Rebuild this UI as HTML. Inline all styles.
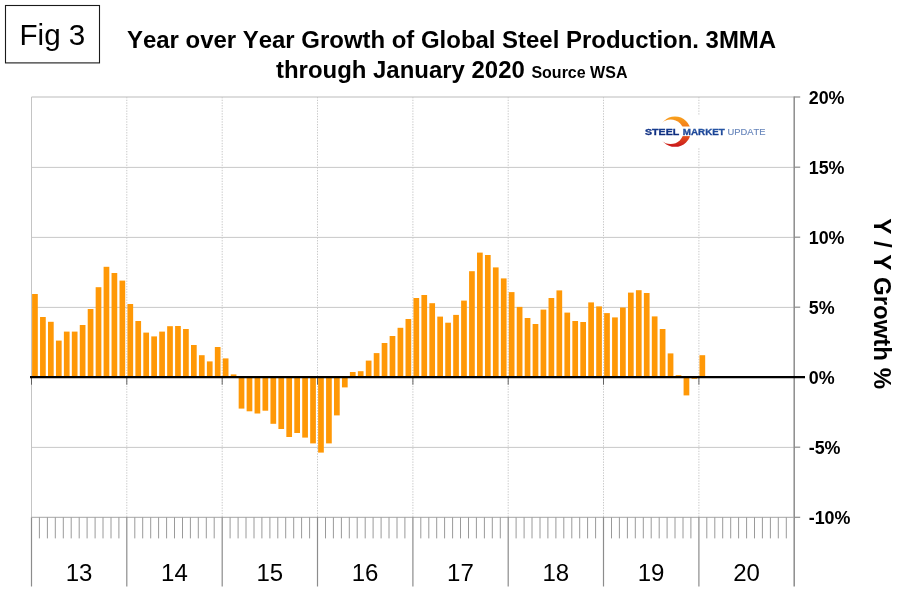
<!DOCTYPE html>
<html lang="en">
<head>
<meta charset="utf-8">
<title>Fig 3 - Year over Year Growth of Global Steel Production</title>
<style>
html,body{margin:0;padding:0;background:#fff;}
body{width:910px;height:603px;overflow:hidden;position:relative;font-family:"Liberation Sans",Arial,sans-serif;}
svg{position:absolute;left:0;top:0;display:block;}
svg text{font-family:"Liberation Sans",Arial,sans-serif;font-kerning:none;}
.b{font-weight:bold;}
</style>
</head>
<body>
<svg width="910" height="603" viewBox="0 0 910 603">
<defs>
<linearGradient id="cres" x1="0" y1="0" x2="0" y2="1">
<stop offset="0" stop-color="#f9a21b"/><stop offset="0.5" stop-color="#ef6a1f"/><stop offset="1" stop-color="#c8151b"/>
</linearGradient>
<linearGradient id="tx1" x1="0" y1="0" x2="0" y2="1">
<stop offset="0" stop-color="#1c4aa0"/><stop offset="1" stop-color="#071f6b"/>
</linearGradient>
<linearGradient id="tx2" x1="0" y1="0" x2="0" y2="1">
<stop offset="0" stop-color="#2f67b5"/><stop offset="1" stop-color="#0d2c80"/>
</linearGradient>
</defs>
<rect x="0" y="0" width="910" height="603" fill="#ffffff"/>

<g stroke="#c9c9c9" stroke-width="1" fill="none">
<line x1="31.5" y1="167.4" x2="794.2" y2="167.4"/>
<line x1="31.5" y1="237.4" x2="794.2" y2="237.4"/>
<line x1="31.5" y1="307.4" x2="794.2" y2="307.4"/>
<line x1="31.5" y1="447.4" x2="794.2" y2="447.4"/>
</g>
<line x1="31.5" y1="97.0" x2="794.2" y2="97.0" stroke="#d2d2d2" stroke-width="1.6"/>
<g stroke="#c8c8c8" stroke-width="1" stroke-dasharray="1.35 1.35" fill="none">
<line x1="126.8" y1="97.0" x2="126.8" y2="517.3"/>
<line x1="222.2" y1="97.0" x2="222.2" y2="517.3"/>
<line x1="317.5" y1="97.0" x2="317.5" y2="517.3"/>
<line x1="412.9" y1="97.0" x2="412.9" y2="517.3"/>
<line x1="508.2" y1="97.0" x2="508.2" y2="517.3"/>
<line x1="603.5" y1="97.0" x2="603.5" y2="517.3"/>
<line x1="698.9" y1="97.0" x2="698.9" y2="517.3"/>
</g>
<g id="logo">
<rect x="640" y="115" width="130" height="32" fill="#ffffff"/>
<ellipse cx="675" cy="131.65" rx="15.6" ry="15.2" fill="url(#cres)"/>
<ellipse cx="670.6" cy="131.75" rx="12.9" ry="12.2" fill="#ffffff"/>
<rect x="642" y="126.5" width="126" height="9.6" fill="#ffffff"/>
<text x="645" y="134.8" font-size="8.7" class="b" fill="url(#tx1)" stroke="#0f2f86" stroke-width="0.3" textLength="34.2" lengthAdjust="spacingAndGlyphs">STEEL</text>
<text x="682.8" y="134.8" font-size="8.7" class="b" fill="url(#tx2)" stroke="#1f4a9c" stroke-width="0.3" textLength="42" lengthAdjust="spacingAndGlyphs">MARKET</text>
<text x="727.4" y="134.8" font-size="8.7" fill="#6483ba" stroke="#6483ba" stroke-width="0.12" textLength="38" lengthAdjust="spacingAndGlyphs">UPDATE</text>
</g>

<g fill="#ff9806">
<rect x="32.10" y="294.0" width="5.7" height="83.2"/>
<rect x="40.05" y="317.0" width="5.7" height="60.2"/>
<rect x="47.99" y="321.8" width="5.7" height="55.4"/>
<rect x="55.94" y="340.6" width="5.7" height="36.6"/>
<rect x="63.88" y="331.6" width="5.7" height="45.6"/>
<rect x="71.82" y="331.6" width="5.7" height="45.6"/>
<rect x="79.77" y="325.0" width="5.7" height="52.2"/>
<rect x="87.72" y="309.0" width="5.7" height="68.2"/>
<rect x="95.66" y="287.2" width="5.7" height="90.0"/>
<rect x="103.60" y="266.8" width="5.7" height="110.4"/>
<rect x="111.55" y="273.0" width="5.7" height="104.2"/>
<rect x="119.50" y="280.6" width="5.7" height="96.6"/>
<rect x="127.44" y="304.0" width="5.7" height="73.2"/>
<rect x="135.38" y="321.0" width="5.7" height="56.2"/>
<rect x="143.33" y="332.6" width="5.7" height="44.6"/>
<rect x="151.28" y="336.4" width="5.7" height="40.8"/>
<rect x="159.22" y="331.6" width="5.7" height="45.6"/>
<rect x="167.16" y="326.2" width="5.7" height="51.0"/>
<rect x="175.11" y="326.0" width="5.7" height="51.2"/>
<rect x="183.06" y="329.0" width="5.7" height="48.2"/>
<rect x="191.00" y="345.0" width="5.7" height="32.2"/>
<rect x="198.94" y="355.2" width="5.7" height="22.0"/>
<rect x="206.89" y="361.4" width="5.7" height="15.8"/>
<rect x="214.84" y="347.0" width="5.7" height="30.2"/>
<rect x="222.78" y="358.4" width="5.7" height="18.8"/>
<rect x="230.72" y="374.4" width="5.7" height="2.8"/>
<rect x="238.67" y="377.2" width="5.7" height="31.4"/>
<rect x="246.62" y="377.2" width="5.7" height="34.1"/>
<rect x="254.56" y="377.2" width="5.7" height="36.3"/>
<rect x="262.50" y="377.2" width="5.7" height="33.5"/>
<rect x="270.45" y="377.2" width="5.7" height="46.6"/>
<rect x="278.40" y="377.2" width="5.7" height="51.8"/>
<rect x="286.34" y="377.2" width="5.7" height="59.8"/>
<rect x="294.29" y="377.2" width="5.7" height="55.8"/>
<rect x="302.23" y="377.2" width="5.7" height="60.4"/>
<rect x="310.18" y="377.2" width="5.7" height="66.2"/>
<rect x="318.12" y="377.2" width="5.7" height="75.4"/>
<rect x="326.07" y="377.2" width="5.7" height="66.2"/>
<rect x="334.01" y="377.2" width="5.7" height="38.2"/>
<rect x="341.96" y="377.2" width="5.7" height="10.2"/>
<rect x="349.90" y="372.0" width="5.7" height="5.2"/>
<rect x="357.85" y="371.2" width="5.7" height="6.0"/>
<rect x="365.79" y="360.6" width="5.7" height="16.6"/>
<rect x="373.74" y="353.1" width="5.7" height="24.1"/>
<rect x="381.68" y="343.0" width="5.7" height="34.2"/>
<rect x="389.63" y="336.0" width="5.7" height="41.2"/>
<rect x="397.57" y="327.8" width="5.7" height="49.4"/>
<rect x="405.52" y="319.0" width="5.7" height="58.2"/>
<rect x="413.46" y="298.0" width="5.7" height="79.2"/>
<rect x="421.41" y="295.0" width="5.7" height="82.2"/>
<rect x="429.35" y="303.2" width="5.7" height="74.0"/>
<rect x="437.30" y="316.6" width="5.7" height="60.6"/>
<rect x="445.24" y="322.7" width="5.7" height="54.5"/>
<rect x="453.19" y="314.9" width="5.7" height="62.3"/>
<rect x="461.13" y="300.6" width="5.7" height="76.6"/>
<rect x="469.08" y="271.2" width="5.7" height="106.0"/>
<rect x="477.02" y="252.6" width="5.7" height="124.6"/>
<rect x="484.97" y="255.0" width="5.7" height="122.2"/>
<rect x="492.91" y="267.4" width="5.7" height="109.8"/>
<rect x="500.86" y="278.4" width="5.7" height="98.8"/>
<rect x="508.80" y="292.1" width="5.7" height="85.1"/>
<rect x="516.75" y="306.9" width="5.7" height="70.3"/>
<rect x="524.69" y="318.0" width="5.7" height="59.2"/>
<rect x="532.64" y="324.0" width="5.7" height="53.2"/>
<rect x="540.58" y="309.6" width="5.7" height="67.6"/>
<rect x="548.53" y="298.0" width="5.7" height="79.2"/>
<rect x="556.47" y="290.4" width="5.7" height="86.8"/>
<rect x="564.42" y="312.6" width="5.7" height="64.6"/>
<rect x="572.36" y="321.0" width="5.7" height="56.2"/>
<rect x="580.31" y="322.0" width="5.7" height="55.2"/>
<rect x="588.25" y="302.4" width="5.7" height="74.8"/>
<rect x="596.20" y="306.4" width="5.7" height="70.8"/>
<rect x="604.14" y="313.1" width="5.7" height="64.1"/>
<rect x="612.09" y="317.4" width="5.7" height="59.8"/>
<rect x="620.03" y="307.5" width="5.7" height="69.7"/>
<rect x="627.98" y="292.6" width="5.7" height="84.6"/>
<rect x="635.92" y="290.2" width="5.7" height="87.0"/>
<rect x="643.87" y="293.0" width="5.7" height="84.2"/>
<rect x="651.81" y="316.4" width="5.7" height="60.8"/>
<rect x="659.75" y="329.0" width="5.7" height="48.2"/>
<rect x="667.70" y="353.4" width="5.7" height="23.8"/>
<rect x="675.65" y="375.2" width="5.7" height="2.0"/>
<rect x="683.59" y="377.2" width="5.7" height="18.2"/>
<rect x="691.54" y="377.2" width="5.7" height="1.6"/>
<rect x="699.48" y="355.2" width="5.7" height="22.0"/>
</g>
<g stroke="#8c8c8c" stroke-width="1.2" fill="none">
<line x1="31.5" y1="97.0" x2="31.5" y2="517.3" stroke="#c4c4c4" stroke-width="1"/>
<line x1="31.5" y1="517.3" x2="31.5" y2="586.5"/>
<line x1="794.2" y1="96.5" x2="794.2" y2="586.5" stroke-width="1.5"/>
<line x1="31.5" y1="517.3" x2="794.2" y2="517.3" stroke="#a6a6a6" stroke-width="1"/>
<line x1="126.8" y1="517.3" x2="126.8" y2="586.5"/>
<line x1="222.2" y1="517.3" x2="222.2" y2="586.5"/>
<line x1="317.5" y1="517.3" x2="317.5" y2="586.5"/>
<line x1="412.9" y1="517.3" x2="412.9" y2="586.5"/>
<line x1="508.2" y1="517.3" x2="508.2" y2="586.5"/>
<line x1="603.5" y1="517.3" x2="603.5" y2="586.5"/>
<line x1="698.9" y1="517.3" x2="698.9" y2="586.5"/>
<line x1="794.2" y1="97.0" x2="800.2" y2="97.0"/>
<line x1="794.2" y1="167.2" x2="800.2" y2="167.2"/>
<line x1="794.2" y1="237.2" x2="800.2" y2="237.2"/>
<line x1="794.2" y1="307.2" x2="800.2" y2="307.2"/>
<line x1="794.2" y1="447.2" x2="800.2" y2="447.2"/>
<line x1="794.2" y1="517.3" x2="800.2" y2="517.3"/>
</g>
<g stroke="#9a9a9a" stroke-width="1" fill="none">
<line x1="39.4" y1="517.3" x2="39.4" y2="538.4"/>
<line x1="47.4" y1="517.3" x2="47.4" y2="538.4"/>
<line x1="55.3" y1="517.3" x2="55.3" y2="538.4"/>
<line x1="63.3" y1="517.3" x2="63.3" y2="538.4"/>
<line x1="71.2" y1="517.3" x2="71.2" y2="538.4"/>
<line x1="79.2" y1="517.3" x2="79.2" y2="538.4"/>
<line x1="87.1" y1="517.3" x2="87.1" y2="538.4"/>
<line x1="95.1" y1="517.3" x2="95.1" y2="538.4"/>
<line x1="103.0" y1="517.3" x2="103.0" y2="538.4"/>
<line x1="111.0" y1="517.3" x2="111.0" y2="538.4"/>
<line x1="118.9" y1="517.3" x2="118.9" y2="538.4"/>
<line x1="134.8" y1="517.3" x2="134.8" y2="538.4"/>
<line x1="142.7" y1="517.3" x2="142.7" y2="538.4"/>
<line x1="150.7" y1="517.3" x2="150.7" y2="538.4"/>
<line x1="158.6" y1="517.3" x2="158.6" y2="538.4"/>
<line x1="166.6" y1="517.3" x2="166.6" y2="538.4"/>
<line x1="174.5" y1="517.3" x2="174.5" y2="538.4"/>
<line x1="182.5" y1="517.3" x2="182.5" y2="538.4"/>
<line x1="190.4" y1="517.3" x2="190.4" y2="538.4"/>
<line x1="198.3" y1="517.3" x2="198.3" y2="538.4"/>
<line x1="206.3" y1="517.3" x2="206.3" y2="538.4"/>
<line x1="214.2" y1="517.3" x2="214.2" y2="538.4"/>
<line x1="230.1" y1="517.3" x2="230.1" y2="538.4"/>
<line x1="238.1" y1="517.3" x2="238.1" y2="538.4"/>
<line x1="246.0" y1="517.3" x2="246.0" y2="538.4"/>
<line x1="254.0" y1="517.3" x2="254.0" y2="538.4"/>
<line x1="261.9" y1="517.3" x2="261.9" y2="538.4"/>
<line x1="269.9" y1="517.3" x2="269.9" y2="538.4"/>
<line x1="277.8" y1="517.3" x2="277.8" y2="538.4"/>
<line x1="285.7" y1="517.3" x2="285.7" y2="538.4"/>
<line x1="293.7" y1="517.3" x2="293.7" y2="538.4"/>
<line x1="301.6" y1="517.3" x2="301.6" y2="538.4"/>
<line x1="309.6" y1="517.3" x2="309.6" y2="538.4"/>
<line x1="325.5" y1="517.3" x2="325.5" y2="538.4"/>
<line x1="333.4" y1="517.3" x2="333.4" y2="538.4"/>
<line x1="341.4" y1="517.3" x2="341.4" y2="538.4"/>
<line x1="349.3" y1="517.3" x2="349.3" y2="538.4"/>
<line x1="357.2" y1="517.3" x2="357.2" y2="538.4"/>
<line x1="365.2" y1="517.3" x2="365.2" y2="538.4"/>
<line x1="373.1" y1="517.3" x2="373.1" y2="538.4"/>
<line x1="381.1" y1="517.3" x2="381.1" y2="538.4"/>
<line x1="389.0" y1="517.3" x2="389.0" y2="538.4"/>
<line x1="397.0" y1="517.3" x2="397.0" y2="538.4"/>
<line x1="404.9" y1="517.3" x2="404.9" y2="538.4"/>
<line x1="420.8" y1="517.3" x2="420.8" y2="538.4"/>
<line x1="428.8" y1="517.3" x2="428.8" y2="538.4"/>
<line x1="436.7" y1="517.3" x2="436.7" y2="538.4"/>
<line x1="444.6" y1="517.3" x2="444.6" y2="538.4"/>
<line x1="452.6" y1="517.3" x2="452.6" y2="538.4"/>
<line x1="460.5" y1="517.3" x2="460.5" y2="538.4"/>
<line x1="468.5" y1="517.3" x2="468.5" y2="538.4"/>
<line x1="476.4" y1="517.3" x2="476.4" y2="538.4"/>
<line x1="484.4" y1="517.3" x2="484.4" y2="538.4"/>
<line x1="492.3" y1="517.3" x2="492.3" y2="538.4"/>
<line x1="500.3" y1="517.3" x2="500.3" y2="538.4"/>
<line x1="516.1" y1="517.3" x2="516.1" y2="538.4"/>
<line x1="524.1" y1="517.3" x2="524.1" y2="538.4"/>
<line x1="532.0" y1="517.3" x2="532.0" y2="538.4"/>
<line x1="540.0" y1="517.3" x2="540.0" y2="538.4"/>
<line x1="547.9" y1="517.3" x2="547.9" y2="538.4"/>
<line x1="555.9" y1="517.3" x2="555.9" y2="538.4"/>
<line x1="563.8" y1="517.3" x2="563.8" y2="538.4"/>
<line x1="571.8" y1="517.3" x2="571.8" y2="538.4"/>
<line x1="579.7" y1="517.3" x2="579.7" y2="538.4"/>
<line x1="587.6" y1="517.3" x2="587.6" y2="538.4"/>
<line x1="595.6" y1="517.3" x2="595.6" y2="538.4"/>
<line x1="611.5" y1="517.3" x2="611.5" y2="538.4"/>
<line x1="619.4" y1="517.3" x2="619.4" y2="538.4"/>
<line x1="627.4" y1="517.3" x2="627.4" y2="538.4"/>
<line x1="635.3" y1="517.3" x2="635.3" y2="538.4"/>
<line x1="643.3" y1="517.3" x2="643.3" y2="538.4"/>
<line x1="651.2" y1="517.3" x2="651.2" y2="538.4"/>
<line x1="659.2" y1="517.3" x2="659.2" y2="538.4"/>
<line x1="667.1" y1="517.3" x2="667.1" y2="538.4"/>
<line x1="675.0" y1="517.3" x2="675.0" y2="538.4"/>
<line x1="683.0" y1="517.3" x2="683.0" y2="538.4"/>
<line x1="690.9" y1="517.3" x2="690.9" y2="538.4"/>
<line x1="706.8" y1="517.3" x2="706.8" y2="538.4"/>
<line x1="714.8" y1="517.3" x2="714.8" y2="538.4"/>
<line x1="722.7" y1="517.3" x2="722.7" y2="538.4"/>
<line x1="730.7" y1="517.3" x2="730.7" y2="538.4"/>
<line x1="738.6" y1="517.3" x2="738.6" y2="538.4"/>
<line x1="746.6" y1="517.3" x2="746.6" y2="538.4"/>
<line x1="754.5" y1="517.3" x2="754.5" y2="538.4"/>
<line x1="762.4" y1="517.3" x2="762.4" y2="538.4"/>
<line x1="770.4" y1="517.3" x2="770.4" y2="538.4"/>
<line x1="778.3" y1="517.3" x2="778.3" y2="538.4"/>
<line x1="786.3" y1="517.3" x2="786.3" y2="538.4"/>
</g>
<g stroke="#555" stroke-width="0.9" fill="none">
<line x1="31.5" y1="377.2" x2="31.5" y2="384.7"/>
<line x1="126.8" y1="377.2" x2="126.8" y2="384.7"/>
<line x1="222.2" y1="377.2" x2="222.2" y2="384.7"/>
<line x1="317.5" y1="377.2" x2="317.5" y2="384.7"/>
<line x1="412.9" y1="377.2" x2="412.9" y2="384.7"/>
<line x1="508.2" y1="377.2" x2="508.2" y2="384.7"/>
<line x1="603.5" y1="377.2" x2="603.5" y2="384.7"/>
<line x1="698.9" y1="377.2" x2="698.9" y2="384.7"/>
</g>
<line x1="30.0" y1="377.2" x2="805" y2="377.2" stroke="#000" stroke-width="2.2"/>
<g font-size="17.9" class="b" fill="#000">
<text x="808.7" y="103.7">20%</text>
<text x="808.7" y="173.7">15%</text>
<text x="808.7" y="243.7">10%</text>
<text x="808.7" y="313.7">5%</text>
<text x="808.7" y="383.7">0%</text>
<text x="808.7" y="453.7">-5%</text>
<text x="808.7" y="523.7">-10%</text>
</g>
<g font-size="24" fill="#000" text-anchor="middle">
<text x="79.1" y="581">13</text>
<text x="174.4" y="581">14</text>
<text x="269.8" y="581">15</text>
<text x="365.1" y="581">16</text>
<text x="460.4" y="581">17</text>
<text x="555.8" y="581">18</text>
<text x="651.1" y="581">19</text>
<text x="746.5" y="581">20</text>
</g>
<text transform="translate(873.6,218.3) rotate(90)" font-size="24" class="b" fill="#000">Y / Y Growth %</text>
<text x="127" y="48.4" font-size="23.95" class="b" fill="#000">Year over Year Growth of Global Steel Production. 3MMA</text>
<text x="276" y="78.4" font-size="23.95" class="b" fill="#000">through January 2020 <tspan font-size="16">Source WSA</tspan></text>
<rect x="5.5" y="5.5" width="94" height="57.4" fill="#fff" stroke="#1a1a1a" stroke-width="1.1"/>
<text x="19.5" y="45" font-size="29.6" fill="#000">Fig 3</text>
</svg>
</body>
</html>
